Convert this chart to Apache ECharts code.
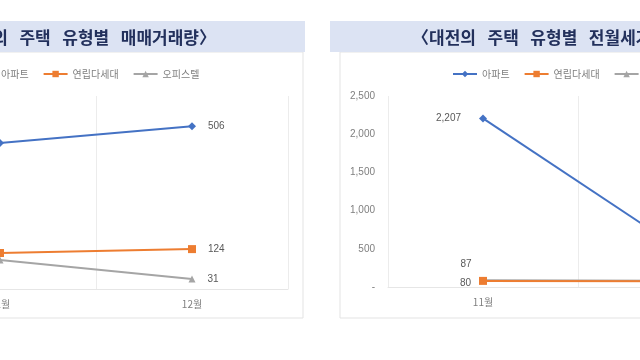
<!DOCTYPE html>
<html><head><meta charset="utf-8">
<script src="https://cdn.jsdelivr.net/npm/echarts@6/dist/echarts.min.js"></script>
<style>
html,body{margin:0;padding:0;width:640px;height:360px;overflow:hidden;background:#fff;}
#c{position:absolute;left:-146px;top:0;width:936px;height:360px;}
</style></head><body><div id="c"></div>
<script>
const months = ['11월', '12월'];
const seriesNames = ['아파트', '연립다세대', '오피스텔'];
// 매매거래량
const saleApt = [454, 506];
const saleRow = [112, 124];
const saleOff = [90, 31];
// 전월세거래량
const rentApt = [2207, 556];
const rentRow = [80, 76];
const rentOff = [87, 82];
const rentTicks = [0, 500, 1000, 1500, 2000, 2500];
const titles = ['〈대전의   주택   유형별   매매거래량〉', '〈대전의   주택   유형별   전월세거래량〉'];

const colors = ['#4472c4', '#ed7d31', '#a5a5a5'];
const symbols = ['diamond', 'rect', 'triangle'];
const symSizes = [8, 8, 7];
const fmt = v => v === 0 ? '-' : v.toLocaleString('en-US');

function mkSeries(vals, idx, axis, labelOffsets) {
  return {
    name: seriesNames[idx], type: 'line', xAxisIndex: axis, yAxisIndex: axis,
    symbol: symbols[idx], symbolSize: symSizes[idx],
    lineStyle: {color: colors[idx], width: 2},
    itemStyle: {color: colors[idx]},
    data: vals.map((v, i) => ({
      value: v,
      label: {position: i === 0 ? 'left' : 'right', offset: labelOffsets ? labelOffsets[i] : [0, 0]}
    })),
    label: {show: true, color: '#595959', fontSize: 10, distance: 12,
      fontFamily: 'Liberation Sans', formatter: p => fmt(p.value)},
    z: 3 - idx
  };
}

const chart = echarts.init(document.getElementById('c'), null, {renderer: 'canvas'});
const axisLabel = {color: '#7f7f7f', fontSize: 10, fontFamily: 'Noto Sans CJK KR'};
const titleStyle = {color: '#22305c', fontSize: 17, fontWeight: 'bold', fontFamily: 'Noto Sans CJK KR'};
chart.setOption({
  animation: false,
  backgroundColor: '#fff',
  graphic: [
    {type: 'rect', shape: {x: 0, y: 52, width: 449, height: 266}, style: {fill: '#fff', stroke: '#e3e3e3', lineWidth: 1}, z: -10},
    {type: 'rect', shape: {x: 486, y: 52, width: 460, height: 266}, style: {fill: '#fff', stroke: '#e3e3e3', lineWidth: 1}, z: -10},
    {type: 'rect', shape: {x: 0, y: 21, width: 451, height: 31}, style: {fill: '#dce3f3'}, z: -9},
    {type: 'rect', shape: {x: 476, y: 21, width: 470, height: 31}, style: {fill: '#dce3f3'}, z: -9}
  ],
  title: [
    {text: titles[0], right: 569, top: 24, textStyle: titleStyle},
    {text: titles[1], left: 553, top: 24, textStyle: titleStyle}
  ],
  legend: [
    {left: 112, top: 64, itemWidth: 24, itemHeight: 8, itemGap: 14, data: seriesNames,
      textStyle: {color: '#7f7f7f', fontSize: 10, fontFamily: 'Noto Sans CJK KR'}},
    {left: 593, top: 64, itemWidth: 24, itemHeight: 8, itemGap: 14, data: seriesNames,
      textStyle: {color: '#7f7f7f', fontSize: 10, fontFamily: 'Noto Sans CJK KR'}}
  ],
  grid: [
    {left: 50, width: 384, top: 96, height: 193},
    {left: 534, width: 380, top: 96, height: 191}
  ],
  xAxis: [0, 1].map(g => ({
    type: 'category', gridIndex: g, data: months, boundaryGap: true,
    axisLine: {lineStyle: {color: '#e6e6e6'}}, axisTick: {show: false},
    splitLine: {show: true, lineStyle: {color: '#ececec'}},
    axisLabel: Object.assign({margin: 10}, axisLabel)
  })),
  yAxis: [
    {type: 'value', gridIndex: 0, min: 0, max: 600, interval: 100,
      splitLine: {show: false}, axisLine: {show: false}, axisTick: {show: false},
      axisLabel: Object.assign({formatter: fmt, margin: 12}, axisLabel, {fontFamily: 'Liberation Sans'})},
    {type: 'value', gridIndex: 1, min: rentTicks[0], max: rentTicks[rentTicks.length - 1], interval: rentTicks[1] - rentTicks[0],
      splitLine: {show: false}, axisLine: {show: false}, axisTick: {show: false},
      axisLabel: Object.assign({formatter: fmt, margin: 13}, axisLabel, {fontFamily: 'Liberation Sans'})}
  ],
  series: [
    mkSeries(saleApt, 0, 0),
    mkSeries(saleRow, 1, 0),
    mkSeries(saleOff, 2, 0),
    mkSeries(rentApt, 0, 1, [[-6, 0], [0, 0]]),
    mkSeries(rentRow, 1, 1, [[4, 2], [0, 0]]),
    mkSeries(rentOff, 2, 1, [[4, -16], [0, 0]])
  ]
});
</script></body></html>
